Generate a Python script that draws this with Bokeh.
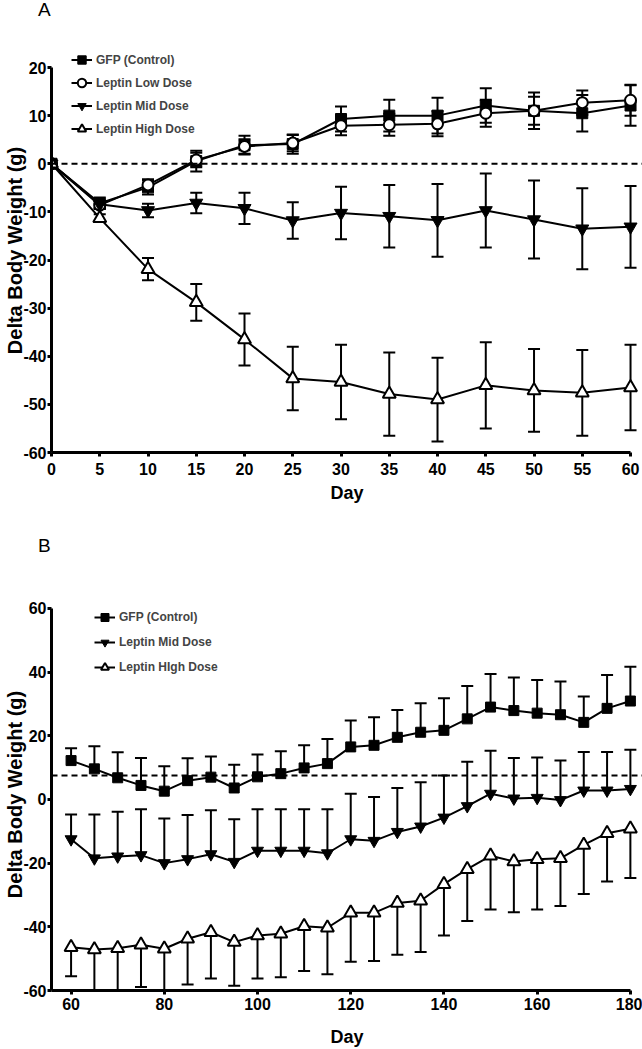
import math
from bokeh.plotting import figure
from bokeh.models import (Range1d, Span, Whisker, TeeHead, ColumnDataSource, Legend,
                          LegendItem, FixedTicker, Div)
from bokeh.layouts import column
from bokeh.embed import file_html
from bokeh.resources import INLINE

# ---------------- data: panel A ----------------
days_a = [0, 5, 10, 15, 20, 25, 30, 35, 40, 45, 50, 55, 60]
gfp_a = [0, -8.2, -4.9, 0.55, 3.85, 4.1, 9.3, 10.0, 10.0, 12.1, 11.0, 10.5, 12.1]
gfp_a_err = [0, 1.2, 1.5, 2.15, 1.95, 2.0, 2.6, 3.3, 3.7, 3.6, 3.8, 3.8, 4.2]
low_a = [0, -8.6, -4.4, 0.8, 3.6, 4.3, 7.9, 8.1, 8.3, 10.5, 11.0, 12.7, 13.2]
low_a_err = [0, 0.8, 1.2, 1.5, 1.5, 1.7, 2.0, 2.3, 2.6, 2.8, 2.9, 2.5, 3.2]
mid_a = [0, -8.4, -9.7, -8.15, -9.25, -11.8, -10.25, -10.9, -11.75, -9.7, -11.6, -13.5, -13.1]
mid_a_err = [0, 0.8, 1.4, 2.15, 3.25, 3.8, 5.45, 6.5, 7.55, 7.7, 8.1, 8.4, 8.5]
high_a = [0, -11.3, -21.9, -28.8, -36.5, -44.6, -45.35, -47.85, -49.0, -46.05, -47.1, -47.6, -46.5]
high_a_err = [0, 0.8, 2.3, 3.8, 5.4, 6.6, 7.75, 8.65, 8.7, 8.95, 8.6, 8.9, 8.9]

# ---------------- data: panel B ----------------
days_b = [60, 65, 70, 75, 80, 85, 90, 95, 100, 105, 110, 115, 120, 125, 130, 135,
          140, 145, 150, 155, 160, 165, 170, 175, 180]
gfp_b = [12.2, 9.6, 6.8, 4.4, 2.6, 5.9, 7.0, 3.6, 7.1, 8.1, 9.9, 11.25, 16.5, 17.0,
         19.5, 21.1, 21.7, 25.3, 29.0, 27.9, 27.1, 26.6, 24.2, 28.6, 30.9]
gfp_b_err = [3.9, 7.1, 8.0, 8.6, 7.8, 7.0, 6.5, 7.3, 7.0, 7.0, 7.1, 7.75, 8.3, 8.8,
             8.6, 9.1, 10.1, 10.3, 10.4, 10.4, 10.4, 10.4, 8.1, 10.5, 10.8]
mid_b = [-12.5, -18.5, -17.9, -17.5, -20.0, -18.75, -17.2, -19.6, -16.1, -16.1, -16.1,
         -16.9, -12.5, -13.0, -10.2, -8.5, -5.7, -2.1, 1.8, 0.3, 0.5, -0.2, 2.8, 2.8, 3.3]
mid_b_err = [7.8, 13.8, 14.0, 14.4, 14.0, 13.85, 13.8, 13.35, 13.0, 13.0, 13.0, 13.8,
             14.3, 13.8, 13.8, 13.9, 13.2, 13.9, 13.5, 12.7, 12.7, 12.4, 12.1, 12.1, 12.3]
high_b = [-46.4, -47.1, -46.7, -45.6, -46.9, -43.75, -41.7, -44.8, -42.7, -42.2, -39.8,
          -40.3, -35.6, -35.6, -32.5, -31.8, -26.6, -21.9, -17.7, -19.5, -18.75, -18.5,
          -14.3, -10.6, -9.2]
high_b_err = [9.1, 12.9, 13.3, 13.3, 13.1, 14.35, 14.55, 13.7, 13.55, 13.6, 14.1, 14.6,
              15.4, 15.1, 16.25, 16.1, 16.1, 16.3, 16.9, 15.9, 15.85, 15.0, 15.4, 15.2, 15.5]

labels_a = ["GFP (Control)", "Leptin Low Dose", "Leptin Mid Dose", "Leptin High Dose"]
labels_b = ["GFP (Control)", "Leptin Mid Dose", "Leptin HIgh Dose"]
xticks_a = [0, 5, 10, 15, 20, 25, 30, 35, 40, 45, 50, 55, 60]
yticks_a = [-60, -50, -40, -30, -20, -10, 0, 10, 20]
xticks_b = [60, 80, 100, 120, 140, 160, 180]
yticks_b = [-60, -40, -20, 0, 20, 40, 60]
baseline_a = 0
baseline_b = 7.5
panel_a = "A"
panel_b = "B"

FONT = "Liberation Sans"


def style_axes(p, xticks, yticks, xbounds, ybounds, lab_standoff, title_standoff):
    for ax in (p.xaxis[0], p.yaxis[0]):
        ax.axis_line_width = 3
        ax.axis_line_color = "black"
        ax.major_tick_line_width = 3
        ax.major_tick_line_color = "black"
        ax.major_tick_out = 4
        ax.major_tick_in = 0
        ax.minor_tick_line_color = None
        ax.major_label_text_font = FONT
        ax.major_label_text_font_style = "bold"
        ax.major_label_text_font_size = "16px"
        ax.major_label_text_color = "black"
        ax.major_label_standoff = 1
        ax.axis_label_text_font = FONT
        ax.axis_label_text_font_style = "bold"
        ax.axis_label_text_color = "black"
    p.xaxis[0].major_label_standoff = lab_standoff
    p.xaxis[0].ticker = FixedTicker(ticks=xticks)
    p.yaxis[0].ticker = FixedTicker(ticks=yticks)
    p.xaxis[0].major_label_overrides = {t: str(t) for t in xticks}
    p.yaxis[0].major_label_overrides = {t: str(t) for t in yticks}
    p.xaxis[0].bounds = xbounds
    p.yaxis[0].bounds = ybounds
    p.xaxis[0].axis_label = "Day"
    p.xaxis[0].axis_label_standoff = title_standoff
    p.xaxis[0].axis_label_text_font_size = "18px"
    p.yaxis[0].axis_label = "Delta Body Weight (g)"
    p.yaxis[0].axis_label_standoff = -6
    p.yaxis[0].axis_label_text_font_size = "20px"
    p.xgrid.grid_line_color = None
    p.ygrid.grid_line_color = None
    p.outline_line_color = None


def add_series(p, x, y, err, marker, size, fill, mode="both"):
    if mode == "both":
        up = [a + e for a, e in zip(y, err)]
        lo = [a - e for a, e in zip(y, err)]
    elif mode == "up":
        up = [a + e for a, e in zip(y, err)]
        lo = list(y)
    else:
        up = list(y)
        lo = [a - e for a, e in zip(y, err)]
    src = ColumnDataSource(dict(x=x, upper=up, lower=lo))
    uh = TeeHead(size=12, line_width=2, line_color="black") if mode in ("both", "up") else None
    lh = TeeHead(size=12, line_width=2, line_color="black") if mode in ("both", "down") else None
    w = Whisker(source=src, base="x", upper="upper", lower="lower", line_width=2,
                line_color="black", upper_head=uh, lower_head=lh, level="underlay")
    p.add_layout(w)
    ln = p.line(x, y, line_width=2, line_color="black")
    sc = p.scatter(x, y, marker=marker, size=size, fill_color=fill, line_color="black",
                   line_width=2 if fill == "white" else 1)
    return ln, sc


def make_legend(items, loc, glyph_h, spacing):
    return Legend(items=items, location=loc, padding=0, margin=0, spacing=spacing,
                  glyph_width=21, glyph_height=glyph_h, label_height=glyph_h,
                  label_standoff=4, label_text_font=FONT, label_text_font_style="bold",
                  label_text_font_size="12px", background_fill_alpha=0,
                  border_line_alpha=0)


def panel_div(letter, height, pad_top):
    html = ('<div style="padding-top:%dpx;padding-left:38px;font-family:\'Liberation Sans\';'
            'font-size:19px;line-height:19px;color:black;">%s</div>' % (pad_top, letter))
    return Div(text=html, width=642, height=height, margin=0)


# ---------------- panel A ----------------
divA = panel_div(panel_a, 20, 0)
pA = figure(width=642, height=490, output_backend="svg", toolbar_location=None,
            x_range=Range1d(0, 61.24), y_range=Range1d(-60, 23.95),
            min_border_left=51, min_border_right=0, min_border_top=28,
            min_border_bottom=58)
style_axes(pA, xticks_a, yticks_a, (0, 60), (-60, 20), 6, 5)
pA.add_layout(Span(location=baseline_a, dimension="width", line_dash="6 4",
                   line_width=2, line_color="black"))
ra = [
    add_series(pA, days_a, gfp_a, gfp_a_err, "square", 11, "black"),
    add_series(pA, days_a, low_a, low_a_err, "circle", 11, "white"),
    add_series(pA, days_a, mid_a, mid_a_err, "inverted_triangle", 13, "black"),
    add_series(pA, days_a, high_a, high_a_err, "triangle", 13, "white"),
]
legA = make_legend([LegendItem(label=l, renderers=list(r)) for l, r in zip(labels_a, ra)],
                   (20, 312), 23, 0)
pA.add_layout(legA)

# ---------------- panel B ----------------
divB = panel_div(panel_b, 45, 26)
pB = figure(width=642, height=494, output_backend="svg", toolbar_location=None,
            x_range=Range1d(55.8, 182.6), y_range=Range1d(-60, 63.1),
            min_border_left=51, min_border_right=0, min_border_top=43,
            min_border_bottom=56)
style_axes(pB, xticks_b, yticks_b, (55.8, 180), (-60, 60), 3, 14)
pB.add_layout(Span(location=baseline_b, dimension="width", line_dash="6 4",
                   line_width=2, line_color="black"))
rb = [
    add_series(pB, days_b, gfp_b, gfp_b_err, "square", 10, "black", "up"),
    add_series(pB, days_b, mid_b, mid_b_err, "inverted_triangle", 12, "black", "up"),
    add_series(pB, days_b, high_b, high_b_err, "triangle", 13, "white", "down"),
]
legB = make_legend([LegendItem(label=l, renderers=list(r)) for l, r in zip(labels_b, rb)],
                   (43, 313), 20, 5)
pB.add_layout(legB)

layout = column(divA, pA, divB, pB, spacing=0)
open("out.html", "w").write(file_html(layout, INLINE))
